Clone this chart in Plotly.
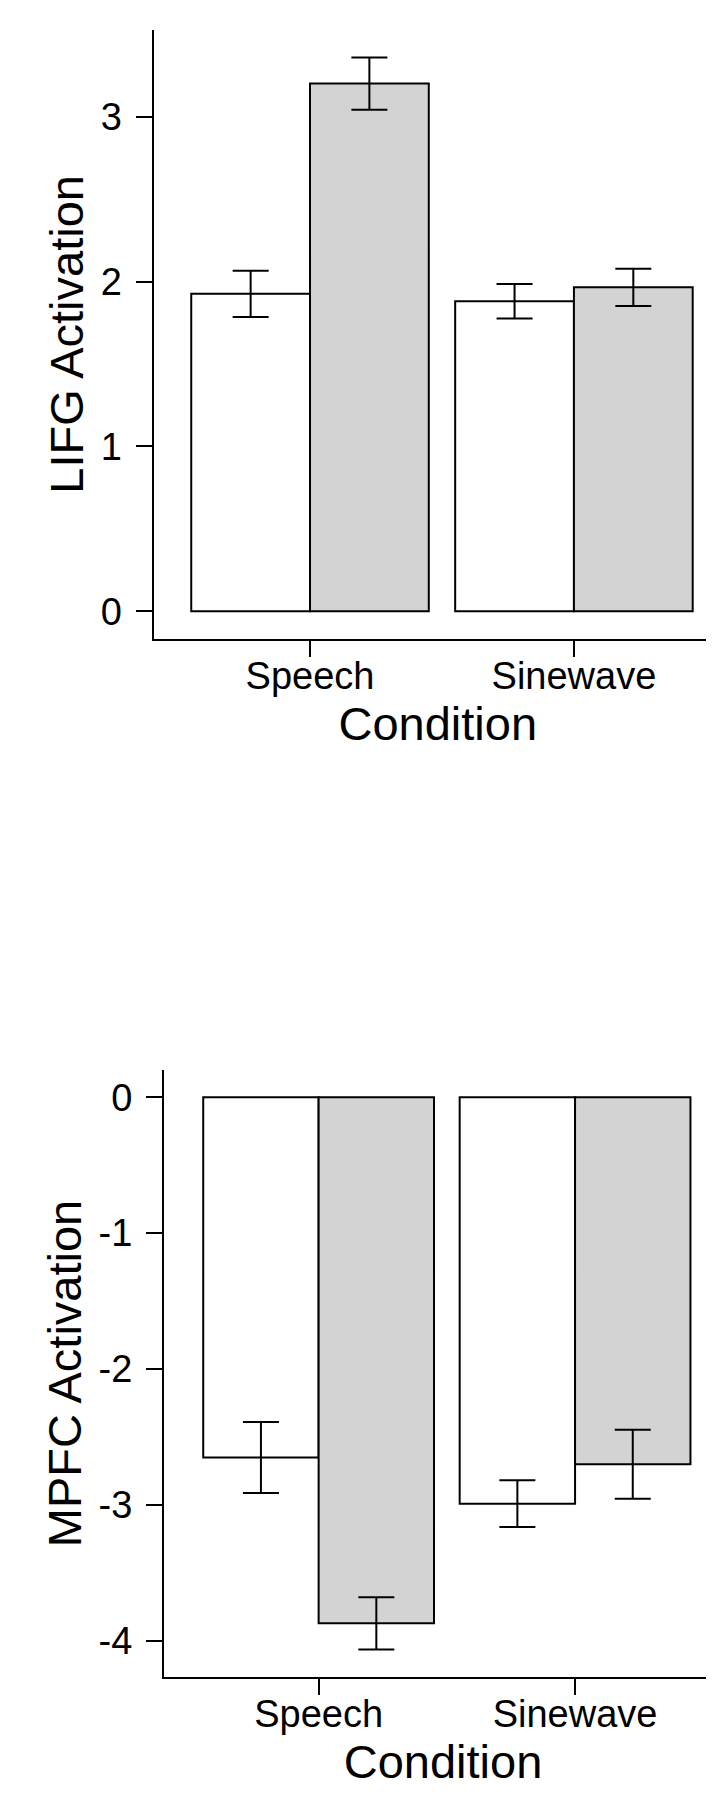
import plotly.graph_objects as go

# ---- data ----
categories = ["Speech", "Sinewave"]

lifg_white = [1.925, 1.88]
lifg_white_err = [0.14, 0.105]
lifg_grey = [3.20, 1.965]
lifg_grey_err = [0.158, 0.113]

mpfc_white = [-2.65, -2.99]
mpfc_white_err = [0.262, 0.172]
mpfc_grey = [-3.87, -2.70]
mpfc_grey_err = [0.192, 0.254]

lifg_tickvals = [0, 1, 2, 3]
lifg_ticktext = ["0", "1", "2", "3"]
mpfc_tickvals = [0, -1, -2, -3, -4]
mpfc_ticktext = ["0", "-1", "-2", "-3", "-4"]

FONT = "Liberation Sans, Arial, Helvetica, sans-serif"
W, H = 714, 1797

fig = go.Figure()

def add_bars(vals, errs, color, xa, ya):
    fig.add_trace(go.Bar(
        x=categories, y=vals,
        marker=dict(color=color, line=dict(color="black", width=2)),
        error_y=dict(type="data", array=errs, visible=True,
                     color="black", thickness=2, width=18),
        xaxis=xa, yaxis=ya, showlegend=False,
    ))

add_bars(lifg_white, lifg_white_err, "white", "x", "y")
add_bars(lifg_grey, lifg_grey_err, "#d3d3d3", "x", "y")
add_bars(mpfc_white, mpfc_white_err, "white", "x2", "y2")
add_bars(mpfc_grey, mpfc_grey_err, "#d3d3d3", "x2", "y2")

axis_common = dict(
    showline=True, linecolor="black", linewidth=2,
    ticks="outside", ticklen=16, tickwidth=2, tickcolor="black",
    showgrid=False, zeroline=False, automargin=False,
    tickfont=dict(family=FONT, size=38, color="black"),
)
title_font = dict(family=FONT, size=47, color="black")

top_y = [1 - 631 / H, 1 - 21.8 / H]
bot_y = [1 - 1669.2 / H, 1 - 1061.7 / H]

fig.update_layout(
    template="none",
    width=W, height=H,
    margin=dict(l=0, r=0, t=0, b=0),
    paper_bgcolor="white", plot_bgcolor="white",
    barmode="group", bargap=0.1, bargroupgap=0,
    font=dict(family=FONT, color="black"),
    xaxis=dict(domain=[145.5 / W, 1], anchor="y", range=[-0.593, 1.561],
               ticklabelstandoff=-14,
               title=dict(text="Condition", font=title_font, standoff=2),
               **axis_common),
    yaxis=dict(domain=top_y, anchor="x", range=[-0.1675, 3.526],
               tickvals=lifg_tickvals, ticktext=lifg_ticktext,
               ticklabelstandoff=6,
               title=dict(text="LIFG Activation", font=title_font, standoff=2),
               **axis_common),
    xaxis2=dict(domain=[156 / W, 1], anchor="y2", range=[-0.603, 1.573],
                ticklabelstandoff=-14,
                title=dict(text="Condition", font=title_font, standoff=2),
                **axis_common),
    yaxis2=dict(domain=bot_y, anchor="x2", range=[-4.266, 0.2025],
                tickvals=mpfc_tickvals, ticktext=mpfc_ticktext,
                ticklabelstandoff=6,
                title=dict(text="MPFC Activation", font=title_font, standoff=2),
                **axis_common),
)

fig.write_html("out.html")
